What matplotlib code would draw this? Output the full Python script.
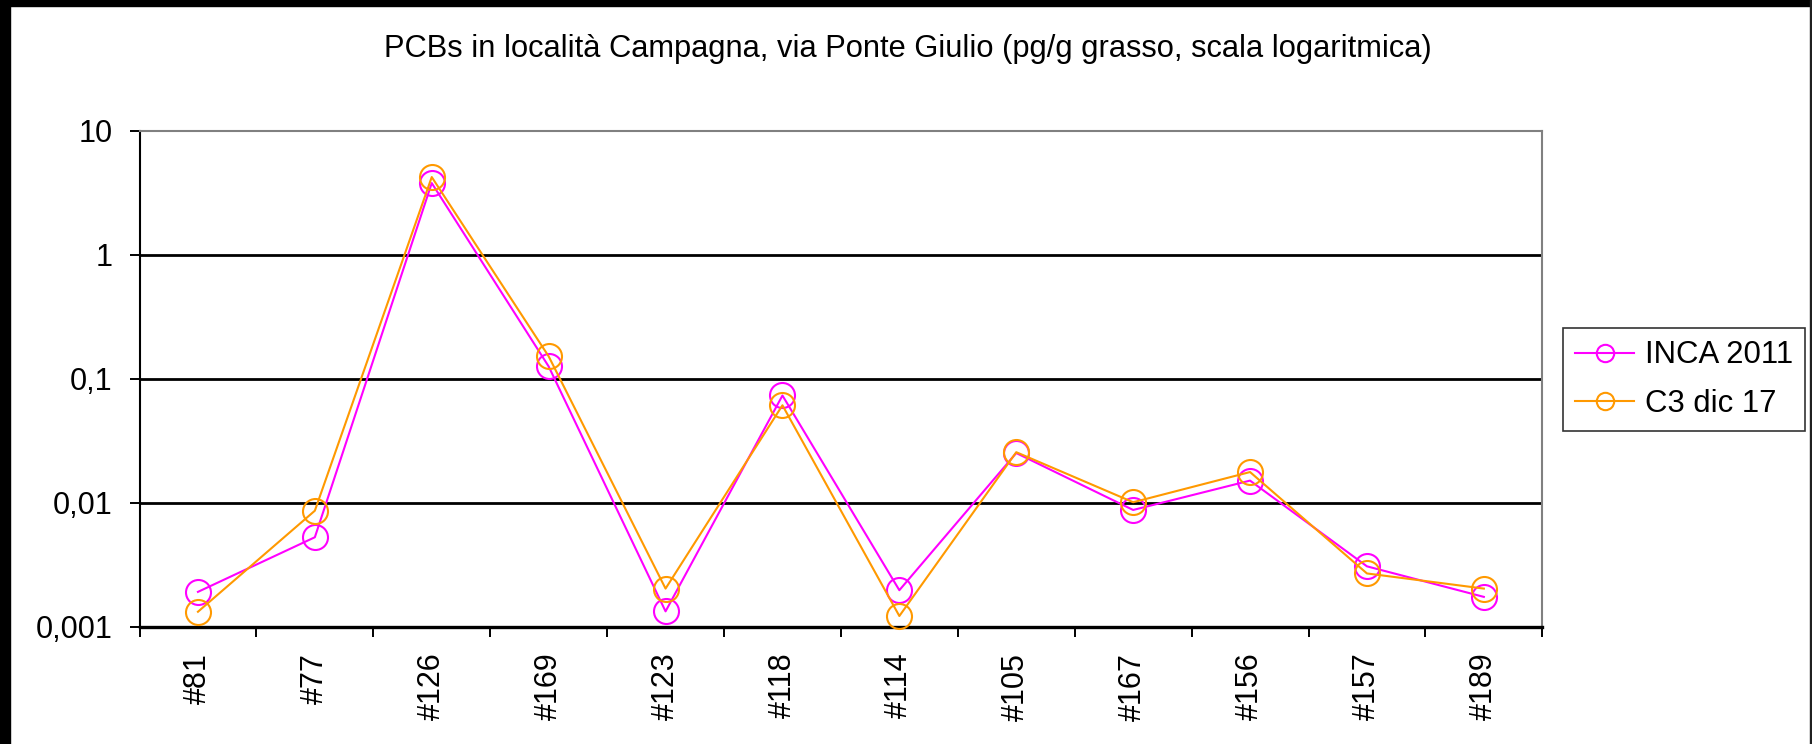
import matplotlib
matplotlib.use("Agg")
import matplotlib.pyplot as plt
from matplotlib.lines import Line2D
from matplotlib.patches import Rectangle

plt.rcParams['font.family'] = ['Liberation Sans', 'DejaVu Sans']

# ---- data ----
categories = ["#81", "#77", "#126", "#169", "#123", "#118", "#114", "#105", "#167", "#156", "#157", "#189"]
inca_2011 = [0.00191, 0.00527, 3.80, 0.126, 0.00133, 0.0734, 0.00197, 0.0252, 0.00875, 0.0151, 0.00307, 0.00174]
c3_dic17 = [0.00132, 0.00863, 4.25, 0.152, 0.00203, 0.0612, 0.00122, 0.0256, 0.0101, 0.0177, 0.00269, 0.00203]
series_names = ["INCA 2011", "C3 dic 17"]
series_colors = ["#FF00FF", "#FF9900"]
yticks = [0.001, 0.01, 0.1, 1, 10]
ytick_labels = ["0,001", "0,01", "0,1", "1", "10"]
title = "PCBs in località Campagna, via Ponte Giulio (pg/g grasso, scala logaritmica)"

W, H, DPI = 1812, 744, 100
fig = plt.figure(figsize=(W / DPI, H / DPI), dpi=DPI)
fig.patch.set_facecolor("white")

# plot area in pixels
L, R, T, B = 139.5, 1542.3, 131.0, 626.7
ax = fig.add_axes([L / W, 1 - B / H, (R - L) / W, (B - T) / H])

x = list(range(len(categories)))
for vals, name, col in zip([inca_2011, c3_dic17], series_names, series_colors):
    ax.plot(x, vals, color=col, lw=1.5, marker="o", ms=18, mfc="none",
            mec=col, mew=1.5, label=name, clip_on=False, zorder=5)

ax.set_yscale("log")
ax.set_ylim(yticks[0], yticks[-1])
ax.set_xlim(-0.5, len(categories) - 0.5)

ax.yaxis.set_major_locator(matplotlib.ticker.FixedLocator(yticks))
ax.yaxis.set_minor_locator(matplotlib.ticker.NullLocator())
ax.set_yticklabels(ytick_labels)

ax.set_xticks([i - 0.5 for i in range(len(categories) + 1)])
ax.set_xticklabels([])
ax.set_xticks(x, minor=True)
ax.set_xticklabels(categories, minor=True, rotation=90, va="top", ha="center")

FS = 22
ax.tick_params(axis="y", which="major", length=7.2, width=1.4, pad=12.3,
               labelsize=FS, color="black", direction="out")
ax.tick_params(axis="x", which="major", length=7.2, width=1.4, direction="out", color="black")
ax.tick_params(axis="x", which="minor", length=0, pad=18.7, labelsize=FS)

for t in yticks[1:-1]:
    ax.axhline(t, color="black", lw=2.0, zorder=1)

ax.spines["left"].set_color("black")
ax.spines["left"].set_linewidth(1.5)
ax.spines["bottom"].set_color("black")
ax.spines["bottom"].set_linewidth(2.4)
ax.spines["top"].set_color("#808080")
ax.spines["top"].set_linewidth(1.5)
ax.spines["right"].set_color("#808080")
ax.spines["right"].set_linewidth(1.5)

fig.text(908 / W, 1 - 48.5 / H, title, ha="center", va="center", fontsize=22.2)

handles = [Line2D([], [], color=c, lw=1.5, marker="o", ms=12.5, mfc="none", mec=c, mew=1.5)
           for c in series_colors]
leg = fig.legend(handles, series_names, loc="center",
                 bbox_to_anchor=((1563.5 + 1804.5) / 2 / W, 1 - 379.5 / H),
                 fontsize=22.4, frameon=True, fancybox=False, handlelength=1.9,
                 handletextpad=0.33, borderpad=0.4, labelspacing=0.58, borderaxespad=0)
leg.get_frame().set_edgecolor("black")
leg.get_frame().set_linewidth(1.2)

# black frame of the original image
fig.add_artist(Rectangle((0, 0), 10 / W, 1, transform=fig.transFigure, color="black", zorder=10))
fig.add_artist(Rectangle((0, 1 - 6 / H), 1, 6 / H, transform=fig.transFigure, color="black", zorder=10))
fig.add_artist(Rectangle((1 - 2 / W, 0), 2 / W, 1, transform=fig.transFigure, color="#202020", zorder=10))

fig.savefig("out.png", dpi=DPI)
